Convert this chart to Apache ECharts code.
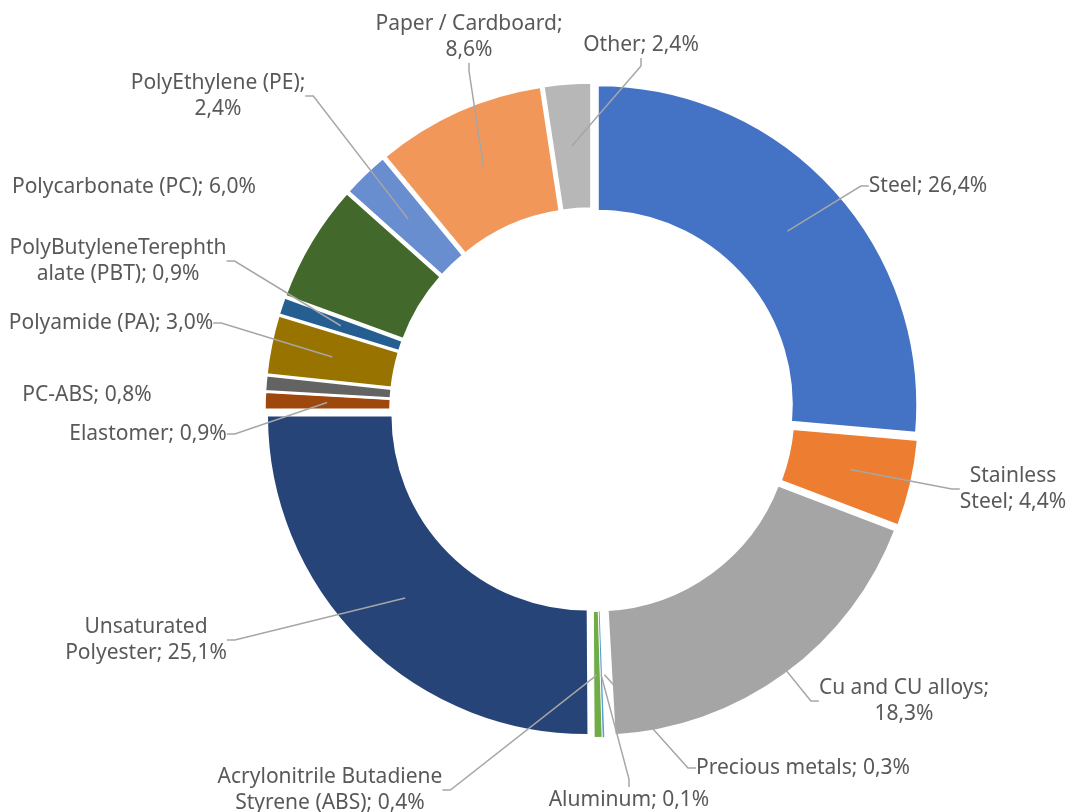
<!DOCTYPE html>
<html>
<head>
<meta charset="utf-8">
<script src="https://cdn.jsdelivr.net/npm/echarts@6/dist/echarts.min.js"></script>
<style>
html,body{margin:0;padding:0;background:#ffffff;}
#chart{width:1068px;height:812px;}
</style>
</head>
<body>
<div id="chart"></div>
<script>
// ---- data ----
const categories = ['Steel', 'Stainless Steel', 'Cu and CU alloys', 'Precious metals', 'Aluminum',
  'Acrylonitrile Butadiene Styrene (ABS)', 'Unsaturated Polyester', 'Elastomer', 'PC-ABS',
  'Polyamide (PA)', 'PolyButyleneTerephthalate (PBT)', 'Polycarbonate (PC)', 'PolyEthylene (PE)',
  'Paper / Cardboard', 'Other'];
const shares = [26.4, 4.4, 18.3, 0.3, 0.1, 0.4, 25.1, 0.9, 0.8, 3.0, 0.9, 6.0, 2.4, 8.6, 2.4];

// ---- styles ----
const colors = ['#4472C4', '#ED7D31', '#A5A5A5', '#FFFFFF', '#5B9BD5', '#70AD47', '#264478',
  '#9E480E', '#636363', '#997300', '#255E91', '#43682B', '#698ED0', '#F1975A', '#B7B7B7'];
const borderWidths = [2.5, 2.5, 2.5, 1, 0, 1, 2.5, 2.5, 2.5, 2.5, 2.5, 2.5, 2.5, 2.5, 2.5];

// ---- label layout (centre of each label text block) ----
const labelCenters = [[928, 186], [1013, 489], [904, 701], [803, 768], [629, 800], [330, 790],
  [146, 640], [148, 434], [87, 395], [111, 323], [118, 261], [134, 187], [218, 96], [469, 37], [641, 45]];
const labelWrap = [0, 9, 17, 0, 0, 23, 11, 0, 0, 0, 20, 0, 18, 18, 0];
const labelLineShow = [true, true, true, true, true, true, true, true, false, true, true, false, true, true, true];
const labelPadX = [0, 0, 0, 0, 0, 0, 0, 0, 0, 0, 0, 0, 0, 0, 40];

function fmtLabel(i) {
  const txt = categories[i] + '; ' + shares[i].toFixed(1).replace('.', ',') + '%';
  const n = labelWrap[i];
  if (!n) return txt;
  return txt.slice(0, n).trim() + '\n' + txt.slice(n).trim();
}

const CENTER = [592, 410];
const chart = echarts.init(document.getElementById('chart'), null, {renderer: 'canvas'});

chart.setOption({
  animation: false,
  backgroundColor: '#ffffff',
  series: [
    {
      type: 'pie',
      z: 2,
      center: CENTER,
      radius: [194, 320],
      startAngle: 90,
      clockwise: true,
      selectedMode: 'multiple',
      selectedOffset: 7.5,
      avoidLabelOverlap: false,
      label: {show: false},
      labelLine: {show: false},
      itemStyle: {borderColor: '#ffffff', borderWidth: 2.5},
      emphasis: {disabled: true},
      select: {itemStyle: {borderColor: '#ffffff', borderWidth: 2.5}},
      data: categories.map((name, i) => ({
        name: name,
        value: shares[i],
        selected: true,
        itemStyle: {color: colors[i], borderWidth: borderWidths[i]},
        select: {itemStyle: {color: colors[i], borderWidth: borderWidths[i]}}
      }))
    },
    {
      type: 'pie',
      z: 5,
      center: CENTER,
      radius: [0, 265],
      startAngle: 90,
      clockwise: true,
      silent: true,
      avoidLabelOverlap: false,
      itemStyle: {color: 'rgba(0,0,0,0)', borderWidth: 0},
      emphasis: {disabled: true},
      label: {
        show: true,
        position: 'outside',
        color: '#595959',
        fontFamily: 'Noto Sans',
        fontSize: 21,
        lineHeight: 26,
        formatter: (p) => fmtLabel(p.dataIndex)
      },
      labelLine: {
        show: true,
        length: 10,
        length2: 8,
        minTurnAngle: 0,
        maxSurfaceAngle: 180,
        lineStyle: {color: '#A6A6A6', width: 1.5}
      },
      labelLayout: (p) => ({
        x: labelCenters[p.dataIndex][0],
        y: labelCenters[p.dataIndex][1],
        align: 'center',
        verticalAlign: 'middle'
      }),
      data: categories.map((name, i) => ({
        name: name,
        value: shares[i],
        label: {padding: [0, labelPadX[i]]},
        labelLine: {show: labelLineShow[i]}
      }))
    }
  ]
});
</script>
</body>
</html>
